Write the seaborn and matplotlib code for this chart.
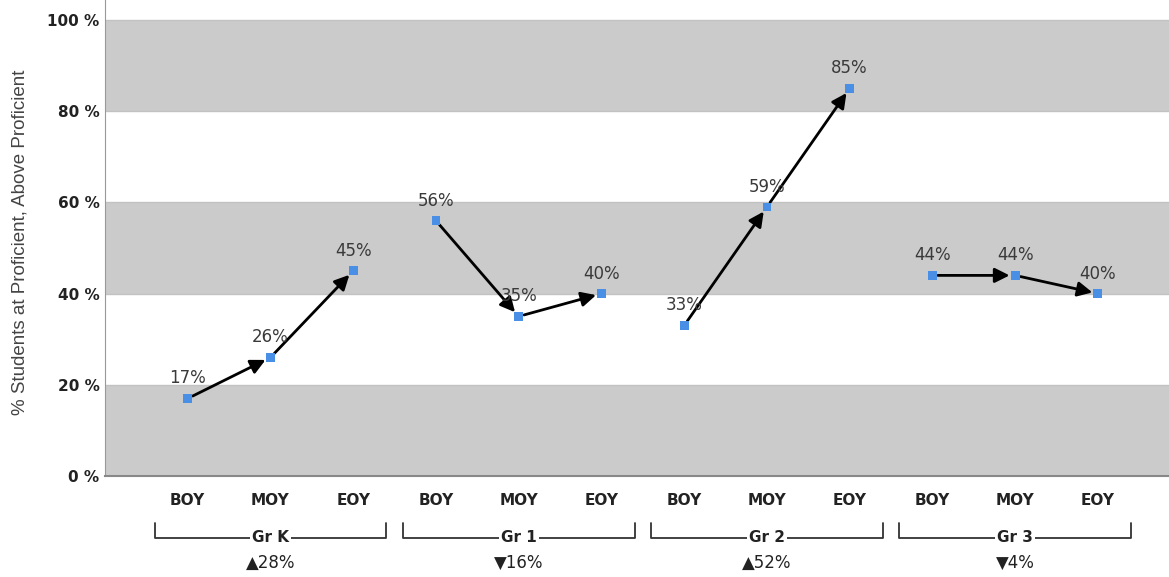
import numpy as np
import seaborn as sns
import matplotlib.pyplot as plt
from matplotlib.transforms import blended_transform_factory

# data
grades = ["Gr K", "Gr 1", "Gr 2", "Gr 3"]
stages = ["BOY", "MOY", "EOY"]
pct_k = [17, 26, 45]
pct_1 = [56, 35, 40]
pct_2 = [33, 59, 85]
pct_3 = [44, 44, 40]
changes = ["\u25B228%", "\u25BC16%", "\u25B252%", "\u25BC4%"]

values = pct_k + pct_1 + pct_2 + pct_3
labels = stages * len(grades)
xpos = np.arange(len(values))

sns.set_style("white")
plt.rcParams['font.family'] = ['DejaVu Sans']

fig = plt.figure(figsize=(11.69, 5.77), dpi=100)
ax = fig.add_axes([105 / 1169, 1 - 476 / 577, 1 - 105 / 1169, 476 / 577])

# alternating bands
for lo in [0, 40, 80]:
    ax.axhspan(lo, lo + 20, color="#cbcbcb", zorder=0, lw=0)
for y in [20, 40, 60, 80, 100]:
    ax.axhline(y, color="#c2c2c2", lw=1, zorder=0.5)

sns.scatterplot(x=xpos, y=values, marker="s", color="#4a8fe6", s=40,
                edgecolor="none", ax=ax, zorder=4)

# arrows between stages in each grade
for g in range(len(grades)):
    for s in range(len(stages) - 1):
        i = g * 3 + s
        ax.annotate("", xy=(xpos[i + 1], values[i + 1]), xytext=(xpos[i], values[i]),
                    arrowprops=dict(arrowstyle="-|>", color="black", lw=2,
                                    mutation_scale=22, shrinkA=4, shrinkB=4),
                    zorder=3)

for x, v in zip(xpos, values):
    ax.annotate(f"{v}%", (x, v), xytext=(0, 8), textcoords="offset points",
                ha="center", va="bottom", fontsize=12, color="#3a3a3a")

ax.set_xlim(-1, 11.86)
ax.set_ylim(0, 104.4)
ax.set_yticks([0, 20, 40, 60, 80, 100])
ax.set_yticklabels([f"{t} %" for t in [0, 20, 40, 60, 80, 100]],
                   fontsize=11, fontweight="bold", color="#222222")
ax.set_xticks(xpos)
ax.set_xticklabels(labels, fontsize=11, fontweight="bold", color="#222222")
ax.tick_params(axis="both", length=0)
ax.tick_params(axis="x", pad=12)
ax.tick_params(axis="y", pad=4)

ax.set_ylabel("% Students at Proficient, Above Proficient", fontsize=13.5,
              color="#444444", family=["Liberation Sans", "DejaVu Sans"])
ax.yaxis.set_label_coords(-(105 - 29) / 1064, 0.49)

for side in ["top", "right"]:
    ax.spines[side].set_visible(False)
ax.spines["left"].set_color("#999999")
ax.spines["bottom"].set_color("#888888")
ax.spines["bottom"].set_linewidth(1.5)

# grade brackets below the axis
tr = blended_transform_factory(ax.transData, ax.transAxes)
y_line = -(538 - 476) / 476
y_top = -(523 - 476) / 476
y_chg = -(563 - 476) / 476
for g, (name, chg) in enumerate(zip(grades, changes)):
    x0, x1 = g * 3 - 0.4, g * 3 + 2.4
    xc = g * 3 + 1
    ax.plot([x0, x0, x1, x1], [y_top, y_line, y_line, y_top], transform=tr,
            color="#333333", lw=1.3, clip_on=False)
    ax.text(xc, y_line, name, transform=tr, ha="center", va="center",
            fontsize=11, fontweight="bold", color="#222222",
            bbox=dict(facecolor="white", edgecolor="none", pad=1.5))
    ax.text(xc, y_chg, chg, transform=tr, ha="center", va="center",
            fontsize=12, color="#222222")

fig.savefig("out.png", dpi=100)
